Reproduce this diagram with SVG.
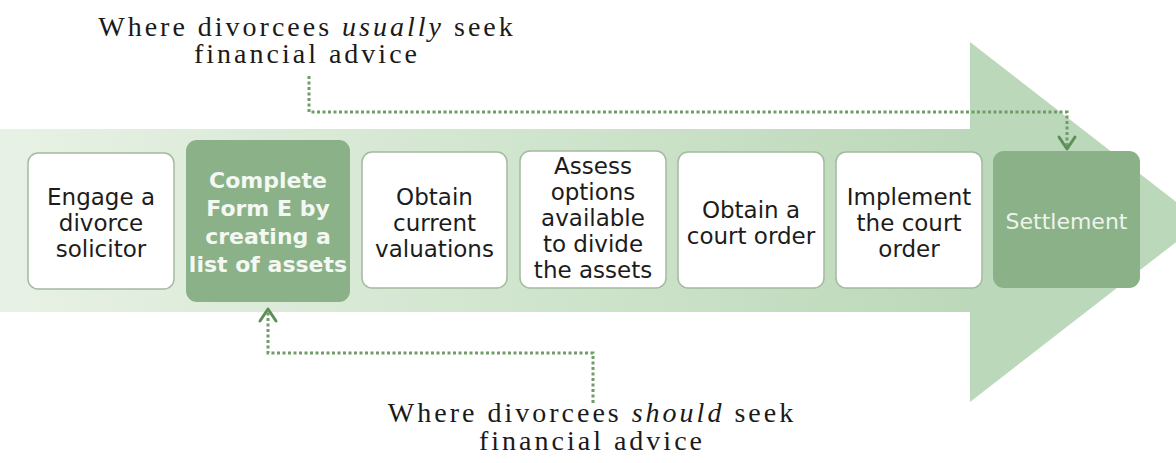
<svg xmlns="http://www.w3.org/2000/svg" width="1176" height="463" viewBox="0 0 1176 463">
<defs>
<linearGradient id="band" x1="0" y1="0" x2="1" y2="0">
<stop offset="0" stop-color="#e8f1e5"/>
<stop offset="0.5" stop-color="#d2e6cf"/>
<stop offset="1" stop-color="#bcd8ba"/>
</linearGradient>
<style>
.cap{font-family:"Liberation Serif",serif;font-size:28px;letter-spacing:3px;fill:#1a1a1a;text-anchor:middle;}
.cap .it{font-style:italic;}
.box{fill:#ffffff;stroke:#a3bb9f;stroke-width:1.5;}
.gbox{fill:#8ab187;}
.t{font-family:"DejaVu Sans",sans-serif;font-size:23px;fill:#1c1c1c;text-anchor:middle;}
.tb{font-family:"DejaVu Sans",sans-serif;font-size:22px;font-weight:bold;fill:#f4f8f2;text-anchor:middle;}
.ts{font-family:"DejaVu Sans",sans-serif;font-size:22px;fill:#eef4ec;text-anchor:middle;}
.dot{fill:none;stroke:#6f9c69;stroke-width:3;stroke-dasharray:3 2.5;}
.head{fill:none;stroke:#5f8f59;stroke-width:3;stroke-linecap:round;stroke-linejoin:round;}
</style>
</defs>
<g id="arrow">
<rect x="0" y="129" width="972" height="183" fill="url(#band)"/>
<polygon points="970,42 1202,222 970,402" fill="#bcd8ba"/>
</g>
<g id="n1">
<rect class="box" x="28" y="153" width="146" height="136" rx="10"/>
<text class="t" x="101" y="205">Engage a</text>
<text class="t" x="101" y="231">divorce</text>
<text class="t" x="101" y="257">solicitor</text>
</g>
<g id="n2">
<rect class="gbox" x="186" y="140" width="164" height="162" rx="11"/>
<text class="tb" x="268" y="188">Complete</text>
<text class="tb" x="268" y="216">Form E by</text>
<text class="tb" x="268" y="244">creating a</text>
<text class="tb" x="268" y="272">list of assets</text>
</g>
<g id="n3">
<rect class="box" x="362" y="152" width="145" height="136" rx="10"/>
<text class="t" x="434.5" y="205">Obtain</text>
<text class="t" x="434.5" y="231">current</text>
<text class="t" x="434.5" y="257">valuations</text>
</g>
<g id="n4">
<rect class="box" x="520" y="151" width="146" height="137" rx="10"/>
<text class="t" x="593" y="174">Assess</text>
<text class="t" x="593" y="200">options</text>
<text class="t" x="593" y="226">available</text>
<text class="t" x="593" y="252">to divide</text>
<text class="t" x="593" y="278">the assets</text>
</g>
<g id="n5">
<rect class="box" x="678" y="152" width="146" height="136" rx="10"/>
<text class="t" x="751" y="218">Obtain a</text>
<text class="t" x="751" y="244">court order</text>
</g>
<g id="n6">
<rect class="box" x="836" y="152" width="146" height="136" rx="10"/>
<text class="t" x="909" y="205">Implement</text>
<text class="t" x="909" y="231">the court</text>
<text class="t" x="909" y="257">order</text>
</g>
<g id="n7">
<rect class="gbox" x="993" y="151" width="147" height="137" rx="11"/>
<text class="ts" x="1066.5" y="229">Settlement</text>
</g>
<g id="connectors">
<polyline class="dot" points="309,76 309,112 1067,112 1067,147"/>
<polyline class="head" points="1059,137 1067,149 1075,137"/>
<polyline class="dot" points="593,403 593,353 268,353 268,312"/>
<polyline class="head" points="260,321 268,309 276,321"/>
</g>
<g id="captions">
<text class="cap" x="307" y="36">Where divorcees <tspan class="it">usually</tspan> seek</text>
<text class="cap" x="307" y="63">financial advice</text>
<text class="cap" x="592" y="422">Where divorcees <tspan class="it">should</tspan> seek</text>
<text class="cap" x="592" y="450">financial advice</text>
</g>
</svg>
